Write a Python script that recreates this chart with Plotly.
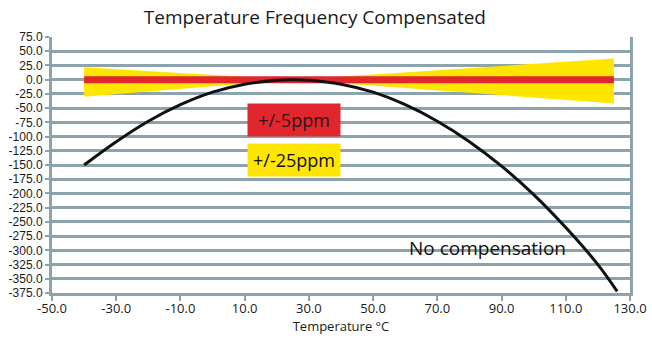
import plotly.graph_objects as go

# ---- data ----
temp_curve = [-40, -30, -20, -10, 0, 10, 20, 25, 30, 40, 50, 60, 70, 80, 90, 100, 110, 120, 126]
ppm_curve = [-150, -109, -73, -44, -22, -8, -1, 0, -1, -8, -22, -44, -73, -109, -152, -202, -260, -325, -372]

band25_temp = [-40, 25, 125]
band25_upper = [22, 0, 37]
band25_lower = [-30, 0, -42]

band5_temp = [-40, 125]
band5_value = [0, 0]

x_ticks = [-50, -30, -10, 10, 30, 50, 70, 90, 110, 130]
x_ticklabels = ["-50.0", "-30.0", "-10.0", "10.0", "30.0", "50.0", "70.0", "90.0", "110.0", "130.0"]
y_ticks = [75, 50, 25, 0, -25, -50, -75, -100, -125, -150, -175, -200, -225, -250,
           -275, -300, -325, -350, -375]
y_ticklabels = ["75.0", "50.0", "25.0", "0.0", "-25.0", "-50.0", "-75.0", "-100.0", "-125.0",
                "-150.0", "-175.0", "-200.0", "-225.0", "-250.0", "-275.0", "-300.0",
                "-325.0", "-350.0", "-375.0"]

GRID = "#8ca3ad"
YELLOW = "#ffe600"
RED = "#e2262e"
FONT = "Open Sans"

fig = go.Figure()

# yellow +/-25ppm band (bow-tie polygon)
fig.add_trace(go.Scatter(
    x=band25_temp + band25_temp[::-1],
    y=band25_upper + band25_lower[::-1],
    fill="toself", fillcolor=YELLOW, line=dict(width=0, color=YELLOW),
    mode="lines", hoverinfo="skip", showlegend=False))

# red +/-5ppm band
fig.add_trace(go.Scatter(
    x=band5_temp, y=band5_value, mode="lines",
    line=dict(color=RED, width=7), hoverinfo="skip", showlegend=False))

# no compensation curve
fig.add_trace(go.Scatter(
    x=temp_curve, y=ppm_curve, mode="lines",
    line=dict(color="#111111", width=3, shape="spline", smoothing=1.0),
    showlegend=False))

fig.update_layout(
    width=652, height=339,
    margin=dict(l=52, r=22, t=37, b=46),
    paper_bgcolor="white", plot_bgcolor="white",
    font=dict(family=FONT, color="#1a1a1a"),
    title=dict(text="Temperature Frequency Compensated", x=0.483, xanchor="center",
               y=0.95, yanchor="middle", font=dict(size=19, family=FONT, color="#1a1a1a")),
    xaxis=dict(range=[-50, 130], tickvals=x_ticks, ticktext=x_ticklabels, automargin=False,
               showgrid=False, zeroline=False, showline=True, linecolor=GRID, linewidth=3,
               ticks="outside", ticklen=5, tickwidth=2, tickcolor=GRID,
               ticklabelstandoff=-4,
               tickfont=dict(size=13, family=FONT, color="#1a1a1a"),
               title=dict(text="Temperature °C", font=dict(size=13, family=FONT, color="#1a1a1a"),
                          standoff=6)),
    yaxis=dict(range=[-375, 75], tickvals=y_ticks, ticktext=y_ticklabels, automargin=False,
               showgrid=True, gridcolor=GRID, gridwidth=2.5, zeroline=False,
               showline=True, mirror=True, linecolor=GRID, linewidth=3,
               ticks="outside", ticklen=4, tickwidth=2, tickcolor=GRID,
               tickfont=dict(size=12, family="Liberation Sans", color="#1a1a1a")),
)

# white patch behind the "No compensation" label (covers only the grid line it sits on)
fig.add_shape(type="rect", xref="paper", yref="paper", x0=0.611, x1=0.900, y0=0.137, y1=0.203,
              fillcolor="white", line=dict(width=0), layer="between")

fig.add_annotation(xref="paper", yref="paper", x=0.418, y=0.674, text="+/-5ppm",
                   xanchor="center", yanchor="middle",
                   showarrow=False, bgcolor=RED, width=90, height=30, borderpad=1,
                   font=dict(size=18, family=FONT, color="#2a1518"))
fig.add_annotation(xref="paper", yref="paper", x=0.418, y=0.518, text="+/-25ppm",
                   xanchor="center", yanchor="middle",
                   showarrow=False, bgcolor=YELLOW, width=90, height=30, borderpad=1,
                   font=dict(size=18, family=FONT, color="#111111"))
fig.add_annotation(xref="paper", yref="paper", x=0.753, y=0.177, text="No compensation",
                   xanchor="center", yanchor="middle",
                   showarrow=False,
                   font=dict(size=19, family=FONT, color="#111111"))

fig.write_html("out.html")
